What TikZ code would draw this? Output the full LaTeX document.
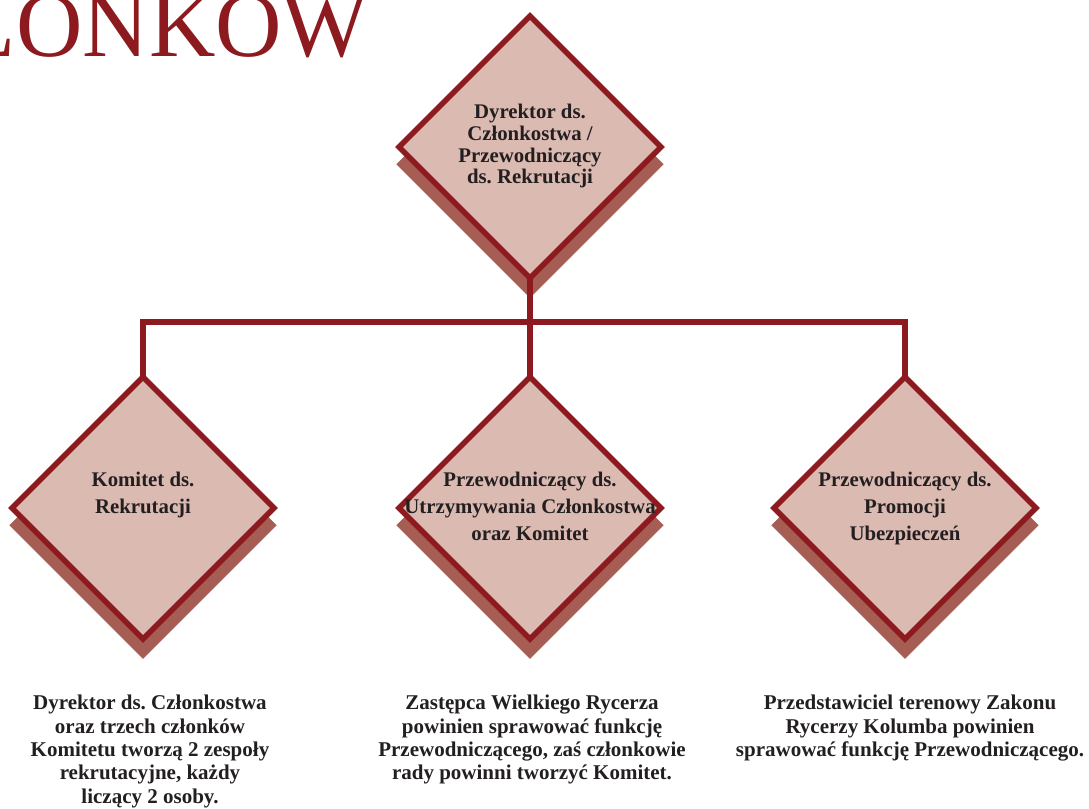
\documentclass[tikz,border=0pt]{standalone}
\usepackage{fontspec}
\setmainfont{Liberation Serif}
\usepackage{tikz}
\usetikzlibrary{shapes.geometric}
\usetikzlibrary{shadows}
\usetikzlibrary{positioning}
\usepackage{xcolor}
\definecolor{wine}{HTML}{8C1A1F}
\definecolor{rose}{HTML}{DBBAB2}
\definecolor{rust}{HTML}{A65E54}
\definecolor{ink}{HTML}{231F20}
\frenchspacing
% text inside a diamond must not widen the diamond
\newcommand{\rhtext}[1]{\makebox[0pt]{\begin{tabular}{@{}c@{}}#1\end{tabular}}}

\begin{document}
\begin{tikzpicture}[x=0.75pt, y=-0.75pt,
        rhomb/.style={diamond, aspect=1, minimum width=196.5pt, minimum height=196.5pt,
            inner sep=0pt, outer sep=0pt, draw=wine, line width=4.1pt, fill=rose,
            text=ink, font=\bfseries\fontsize{15.6pt}{20.2pt}\selectfont,
            general shadow={fill=rust, shadow xshift=0pt, shadow yshift=-12.75pt, shadow scale=1.02}},
        link/.style={draw=wine, line width=4.4pt},
        note/.style={anchor=north, inner sep=0pt, align=center, text=ink,
            font=\bfseries\fontsize{15.75pt}{17.5pt}\selectfont},
        heading/.style={anchor=base east, inner sep=0pt, text=wine,
            font=\fontsize{69pt}{69pt}\selectfont}]
            % Frame to keep the proportions
            \useasboundingbox                                      (0,0) rectangle (1089,809);
            \clip                                                  (0,0) rectangle (1089,809);
            % Title, cut by the frame
            \node[heading] (ttl)                                   at (369,57) {ŁONKÓW};
            % Diamonds
            \node[rhomb, font=\bfseries\fontsize{15.6pt}{16.3pt}\selectfont] (dyr) at (530,147)
                {\rhtext{Dyrektor ds.\\Członkostwa /\\Przewodniczący\\ds. Rekrutacji}};
            \node[rhomb] (kom)                                     at (143,508) {\rhtext{Komitet ds.\\Rekrutacji\\\mbox{}}};
            \node[rhomb] (utr)                                     at (530,508) {\rhtext{Przewodniczący ds.\\Utrzymywania Członkostwa\\oraz Komitet}};
            \node[rhomb] (pro)                                     at (905,508) {\rhtext{Przewodniczący ds.\\Promocji\\Ubezpieczeń}};
            % Connectors
            \coordinate (jct)                                      at (530,322);
            \draw[link] (dyr.south) -- (jct);
            \draw[link] (kom.north) |- (jct) -| (pro.north);
            \draw[link] (jct) -- (utr.north);
            % Notes under the diamonds
            \node[note] (nkom)                                     at (150,695)
                {Dyrektor ds. Członkostwa\\oraz trzech członków\\Komitetu tworzą 2 zespoły\\rekrutacyjne, każdy\\liczący 2 osoby.};
            \node[note] (nutr)                                     at (532,695)
                {Zastępca Wielkiego Rycerza\\powinien sprawować funkcję\\Przewodniczącego, zaś członkowie\\rady powinni tworzyć Komitet.};
            \node[note] (npro)                                     at (910,695)
                {Przedstawiciel terenowy Zakonu\\Rycerzy Kolumba powinien\\sprawować funkcję Przewodniczącego.};
\end{tikzpicture}
\end{document}
